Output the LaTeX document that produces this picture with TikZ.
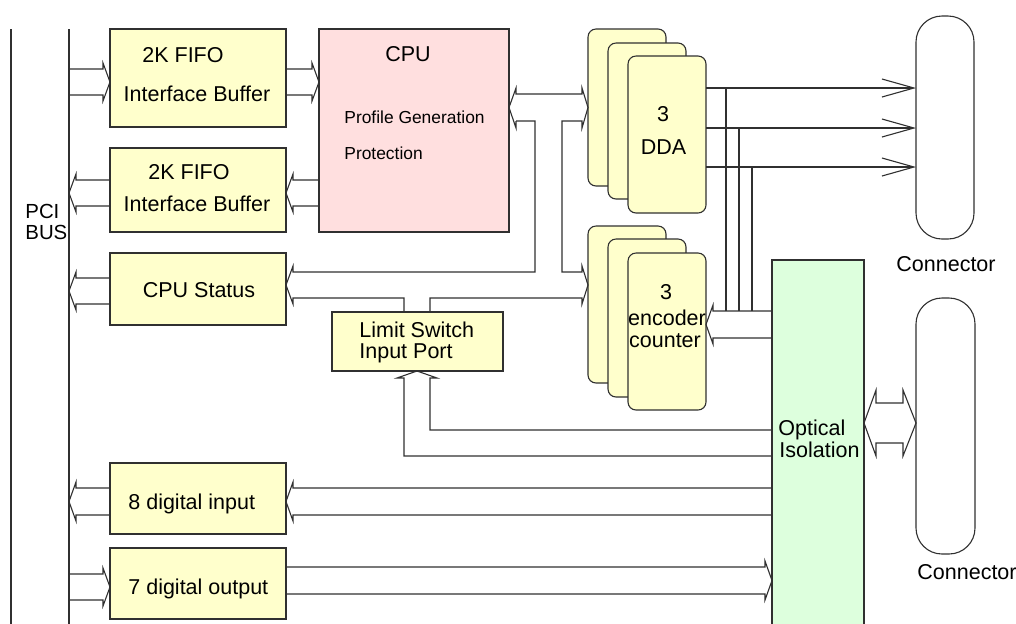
\documentclass[tikz,border=0pt]{standalone}
\usepackage{fontspec}
\setmainfont{Liberation Sans}
\usetikzlibrary{arrows.meta}
\definecolor{boxY}{HTML}{FFFFCC}
\definecolor{boxP}{HTML}{FFDFDF}
\definecolor{boxG}{HTML}{DDFFDD}
\definecolor{ln}{HTML}{303030}
\newcommand\fatR[4]{\draw[wire] (#1,#3) -- ({#2-7},#3) -- ({#2-7},{#3-6}) -- (#2,{(#3+#4)/2}) -- ({#2-7},{#4+6}) -- ({#2-7},#4) -- (#1,#4);}
\newcommand\fatL[4]{\draw[wire] (#1,#3) -- ({#2+7},#3) -- ({#2+7},{#3-6}) -- (#2,{(#3+#4)/2}) -- ({#2+7},{#4+6}) -- ({#2+7},#4) -- (#1,#4);}
\begin{document}
\begin{tikzpicture}[x=0.5pt,y=-0.5pt,
  wire/.style={draw=ln,line width=0.55pt},
  box/.style={draw=ln,fill=boxY,line width=0.55pt,anchor=north west,inner sep=0pt,outer sep=0pt},
  rbox/.style={box,rounded corners=4pt},
  txt/.style={font=\fontsize{10.75}{12}\selectfont,inner sep=0pt,text=black},
  stxt/.style={font=\fontsize{8.7}{10}\selectfont,inner sep=0pt,text=black},
  btxt/.style={font=\fontsize{10.2}{12}\selectfont,inner sep=0pt,text=black},
  barb/.style={-{Straight Barb[length=16pt,width=9pt]}}]
\clip (0,0) rectangle (1016,623);
\fill[white] (0,0) rectangle (1016,623);
% bus lines
\coordinate (busAt) at (11,29); \coordinate (busAb) at (11,640);
\coordinate (busBt) at (69,29); \coordinate (busBb) at (69,640);
\draw[wire] (busAt) -- (busAb);
\draw[wire] (busBt) -- (busBb);
\node[btxt,anchor=base west] (pci) at (25,218) {PCI};
\node[btxt,anchor=base west] (bus) at (25,239) {BUS};
% boxes
\node[box,minimum width=88pt,minimum height=49pt] (fifo1) at (110,29) {};
\node[box,minimum width=88pt,minimum height=42pt] (fifo2) at (110,148) {};
\node[box,fill=boxP,minimum width=95pt,minimum height=101.5pt] (cpu) at (319,29) {};
\node[box,minimum width=88pt,minimum height=36pt] (stat) at (110,253) {};
\node[box,minimum width=85.5pt,minimum height=29.5pt] (lim) at (332,312) {};
\node[rbox,minimum width=39pt,minimum height=78.5pt] (ddaA) at (588,29) {};
\node[rbox,minimum width=39pt,minimum height=78pt] (ddaB) at (608,43) {};
\node[rbox,minimum width=39pt,minimum height=78.5pt] (ddaC) at (628,56) {};
\node[rbox,minimum width=39pt,minimum height=78.5pt] (encA) at (588,226) {};
\node[rbox,minimum width=39pt,minimum height=79pt] (encB) at (608,239) {};
\node[rbox,minimum width=39pt,minimum height=78.5pt] (encC) at (628,253) {};
\node[box,fill=white,rounded corners=13pt,minimum width=29pt,minimum height=111.5pt] (conn1) at (916,16) {};
\node[box,fill=white,rounded corners=13pt,minimum width=29.5pt,minimum height=128pt] (conn2) at (916,298) {};
\node[box,fill=boxG,minimum width=46pt,minimum height=190pt] (opt) at (772,260) {};
\node[box,minimum width=88pt,minimum height=35.5pt] (din) at (110,463) {};
\node[box,minimum width=88pt,minimum height=35.5pt] (dout) at (110,548) {};
% texts
\node[txt,anchor=base] (t1) at (183,62) {2K FIFO};
\node[txt,anchor=base] (t2) at (197,101) {Interface Buffer};
\node[txt,anchor=base] (t3) at (189,179) {2K FIFO};
\node[txt,anchor=base] (t4) at (197,211) {Interface Buffer};
\node[txt,anchor=base] (t5) at (408,61) {CPU};
\node[stxt,anchor=base west] (t6) at (344,123) {Profile Generation};
\node[stxt,anchor=base west] (t7) at (344,159) {Protection};
\node[txt,anchor=base] (t8) at (199,297) {CPU Status};
\node[txt,anchor=base west] (t9) at (359,337) {Limit Switch};
\node[txt,anchor=base west] (t10) at (359,358) {Input Port};
\node[txt,anchor=base] (t11) at (663,121) {3};
\node[txt,anchor=base] (t12) at (663.5,154) {DDA};
\node[txt,anchor=base] (t13) at (666,299) {3};
\node[txt,anchor=base] (t14) at (667,325) {encoder};
\node[txt,anchor=base] (t15) at (665,347) {counter};
\node[txt,anchor=base] (t16) at (946,271) {Connector};
\node[txt,anchor=base west] (t17) at (778,435) {Optical};
\node[txt,anchor=base west] (t18) at (779,457) {Isolation};
\node[txt,anchor=base west] (t19) at (917,579) {Connector};
\node[txt,anchor=base west] (t20) at (128,509) {8 digital input};
\node[txt,anchor=base west] (t21) at (128,594) {7 digital output};
% fat arrows
\fatR{69}{110}{69}{95}
\fatR{286}{319}{69}{95}
\fatL{110}{69}{180}{206}
\fatL{319}{286}{180}{206}
\fatL{110}{69}{278}{304}
\fatL{110}{69}{488}{515}
\fatL{772}{286}{488}{515}
\fatR{69}{110}{574}{600}
\fatR{286}{772}{567}{594}
\fatL{772}{706}{311}{338}
% CPU / DDA / encoder / status / limit structure
\draw[wire] (516,121) -- (516,128) -- (509,107.5) -- (516,88) -- (516,94) -- (582,94) -- (582,88) -- (588,107.5) -- (582,128) -- (582,121) -- (562,121) -- (562,272) -- (582,272) -- (582,266) -- (588,285) -- (582,304) -- (582,298) -- (430,298) -- (430,312);
\draw[wire] (516,121) -- (535,121) -- (535,272) -- (293,272) -- (293,266) -- (286,285) -- (293,304) -- (293,298) -- (404,298) -- (404,312);
% limit switch input from optical isolation
\draw[wire] (772,456) -- (404,456) -- (404,378) -- (397,378) -- (417,371) -- (437,378) -- (430,378) -- (430,430) -- (772,430);
% DDA outputs
\draw[wire,barb] (706,88) -- (916,88);
\draw[wire,barb] (706,128) -- (916,128);
\draw[wire,barb] (706,167) -- (916,167);
\draw[wire] (726,88) -- (726,311);
\draw[wire] (739,128) -- (739,311);
\draw[wire] (752,167) -- (752,311);
% optical <-> connector
\draw[wire] (876,403) -- (903,403) -- (903,390) -- (916,423) -- (903,456) -- (903,443) -- (876,443) -- (876,456) -- (864,423) -- (876,390) -- cycle;
\end{tikzpicture}
\end{document}
